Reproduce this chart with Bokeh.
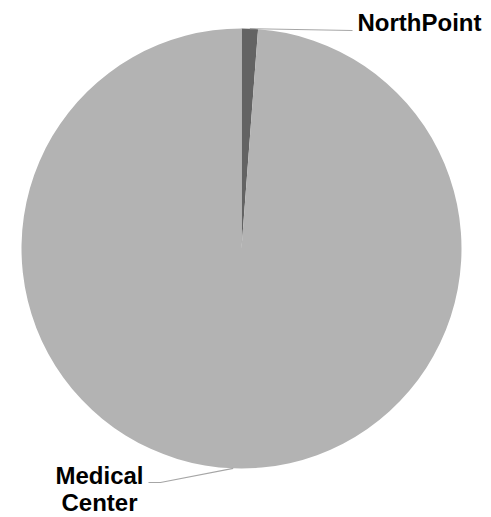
import math
from bokeh.plotting import figure
from bokeh.models import Range1d, ColumnDataSource
from bokeh.core.properties import value
from bokeh.embed import file_html
from bokeh.resources import INLINE

# data
labels = ["NorthPoint", "Medical Center"]
shares = [1.2, 98.8]
colors = ["#636363", "#b3b3b3"]

W, H = 491, 517
PAGE_H = 517

def Y(sy):  # screen y -> data y
    return PAGE_H - sy

cx, cy, R = 241, Y(248), 220

total = sum(shares)
starts, ends, mids = [], [], []
a = math.pi / 2
for v in shares:
    span = 2 * math.pi * v / total
    starts.append(a)
    ends.append(a - span)
    mids.append(a - span / 2)
    a -= span

p = figure(width=W, height=H, output_backend="svg", toolbar_location=None,
           x_range=Range1d(0, W), y_range=Range1d(PAGE_H - H, PAGE_H),
           min_border=0, outline_line_color=None)
p.axis.visible = False
p.grid.visible = False
p.background_fill_color = "white"
p.border_fill_color = "white"

src = ColumnDataSource(dict(start=starts, end=ends, color=colors, label=labels))
p.wedge(x=cx, y=cy, radius=R, start_angle="start", end_angle="end",
        direction="clock", fill_color="color", line_color=None, source=src)

# leader lines and labels
edge = [(cx + R * math.cos(m), cy + R * math.sin(m)) for m in mids]
np_pts = [edge[0], (352, Y(30))]
mc_pts = [edge[1], (160, Y(482)), (148, Y(482))]
p.multi_line(xs=[[q[0] for q in np_pts], [q[0] for q in mc_pts]],
             ys=[[q[1] for q in np_pts], [q[1] for q in mc_pts]],
             line_color="#a6a6a6", line_width=1.2)

font = dict(text_font=value("Liberation Sans"), text_font_style="bold",
            text_font_size="24px", text_color="black")
p.text(x=[357], y=[Y(22)], text=[labels[0]], text_align="left",
       text_baseline="middle", **font)
mc_lines = labels[1].split(" ")
p.text(x=[99] * len(mc_lines), y=[Y(475 + 27 * i) for i in range(len(mc_lines))],
       text=mc_lines, text_align="center", text_baseline="middle", **font)

open("out.html", "w").write(file_html(p, INLINE))
